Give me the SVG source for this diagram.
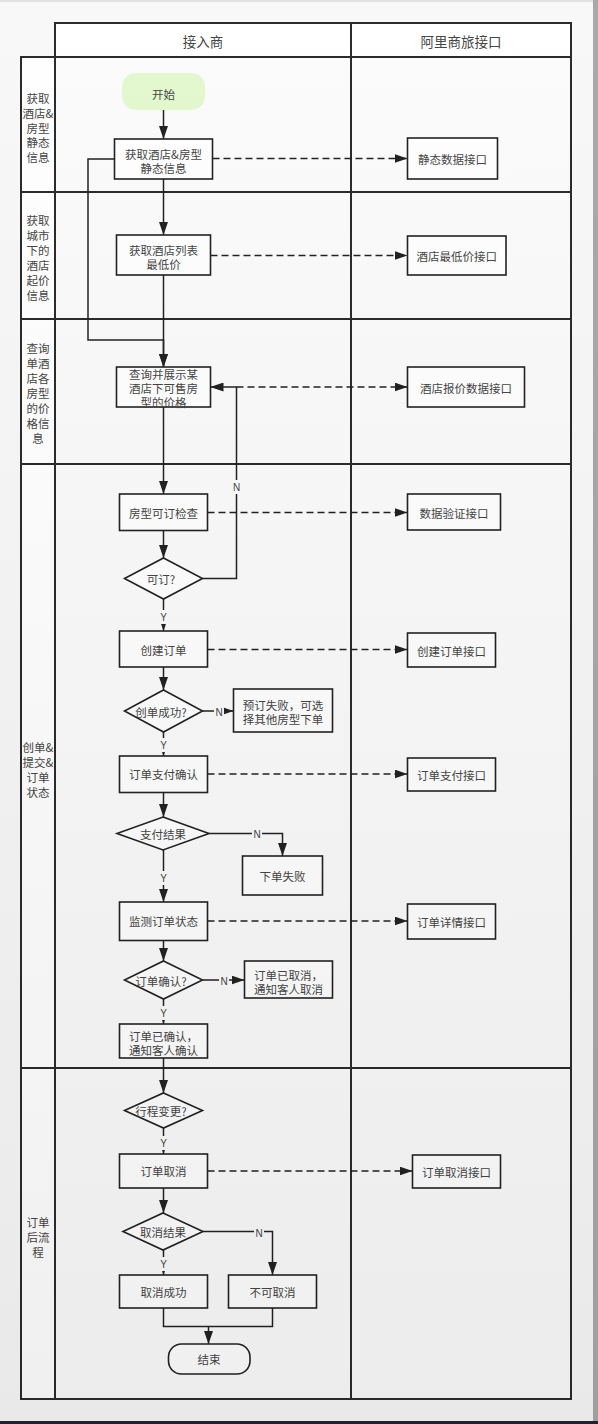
<svg xmlns="http://www.w3.org/2000/svg" width="598" height="1424" viewBox="0 0 598 1424">
<style>
.lane{fill:#fbfbfb;stroke:#2b2b2b;stroke-width:2}
.hdr{fill:#ffffff;stroke:#2b2b2b;stroke-width:2}
.lbl{fill:#ffffff;stroke:#2b2b2b;stroke-width:2}
.box{fill:#ffffff;stroke:#222;stroke-width:1.6}
.dia{fill:#ffffff;stroke:#222;stroke-width:1.6}
.t{font-family:"Noto Sans CJK SC","Liberation Sans",sans-serif;font-size:11.5px;fill:#454545;text-anchor:middle;dominant-baseline:central}
.h{font-family:"Noto Sans CJK SC","Liberation Sans",sans-serif;font-size:13.5px;fill:#454545;text-anchor:middle;dominant-baseline:central}
.e{font-family:"Liberation Sans","Noto Sans CJK SC",sans-serif;font-size:10px;fill:#454545;text-anchor:middle;dominant-baseline:central}
.c{fill:none;stroke:#222;stroke-width:1.5}
.d{fill:none;stroke:#222;stroke-width:1.5;stroke-dasharray:7 4}
.bg{fill:#fbfbfb}
</style>
<defs>
<marker id="ah" viewBox="0 0 13 9" refX="13" refY="4.5" markerWidth="13" markerHeight="9" markerUnits="userSpaceOnUse" orient="auto">
<path d="M0,0 L13,4.5 L0,9 z" fill="#222"/>
</marker>
<linearGradient id="shade" x1="0" y1="0" x2="0" y2="1">
<stop offset="0" stop-color="#000" stop-opacity="0"/>
<stop offset="1" stop-color="#000" stop-opacity="0.06"/>
</linearGradient>
</defs>
<rect x="0" y="0" width="598" height="1424" fill="#f8f8f8"/>
<rect x="0" y="0" width="598" height="2" fill="#e2e2e2"/>
<rect x="593" y="0" width="5" height="1424" fill="#a9a9a9"/>

<g id="swimlanes">
<rect class="hdr" x="55" y="23" width="296" height="34"/>
<rect class="hdr" x="351" y="23" width="220" height="34"/>
<text class="h" x="203" y="41">接入商</text>
<text class="h" x="461" y="41">阿里商旅接口</text>
<rect class="lane" x="55" y="57" width="516" height="1342"/>
<rect class="lbl" x="21" y="57" width="34" height="1342"/>
<line x1="351" y1="57" x2="351" y2="1399" stroke="#2b2b2b" stroke-width="2"/>
<line x1="21" y1="192" x2="571" y2="192" stroke="#2b2b2b" stroke-width="2"/>
<line x1="21" y1="319" x2="571" y2="319" stroke="#2b2b2b" stroke-width="2"/>
<line x1="21" y1="464" x2="571" y2="464" stroke="#2b2b2b" stroke-width="2"/>
<line x1="21" y1="1068" x2="571" y2="1068" stroke="#2b2b2b" stroke-width="2"/>
<text class="t">
<tspan x="38" y="98">获取</tspan><tspan x="38" y="113">酒店&amp;</tspan><tspan x="38" y="127.5">房型</tspan><tspan x="38" y="142">静态</tspan><tspan x="38" y="156.5">信息</tspan>
</text>
<text class="t">
<tspan x="38" y="220">获取</tspan><tspan x="38" y="235">城市</tspan><tspan x="38" y="250">下的</tspan><tspan x="38" y="265">酒店</tspan><tspan x="38" y="280">起价</tspan><tspan x="38" y="295">信息</tspan>
</text>
<text class="t">
<tspan x="38" y="348">查询</tspan><tspan x="38" y="363">单酒</tspan><tspan x="38" y="378">店各</tspan><tspan x="38" y="393">房型</tspan><tspan x="38" y="408">的价</tspan><tspan x="38" y="423">格信</tspan><tspan x="38" y="438">息</tspan>
</text>
<text class="t">
<tspan x="38" y="747">创单&amp;</tspan><tspan x="38" y="762">提交&amp;</tspan><tspan x="38" y="777">订单</tspan><tspan x="38" y="791.5">状态</tspan>
</text>
<text class="t">
<tspan x="38" y="1222">订单</tspan><tspan x="38" y="1237">后流</tspan><tspan x="38" y="1252">程</tspan>
</text>
</g>

<g id="connectors">
<path class="c" d="M163.5,110 V139" marker-end="url(#ah)"/>
<path class="d" d="M212.5,158.5 H407.5" marker-end="url(#ah)"/>
<path class="c" d="M163.5,179 V235" marker-end="url(#ah)"/>
<path class="d" d="M210.5,255.5 H407.5" marker-end="url(#ah)"/>
<path class="c" d="M114.5,159 H88 V340 H163.5 V367" marker-end="url(#ah)"/>
<path class="c" d="M163.5,275 V367" marker-end="url(#ah)"/>
<path class="d" d="M236.5,387 H407.5" marker-end="url(#ah)"/>
<path class="c" d="M202.5,578.5 H236.5 V387 H210.5" marker-end="url(#ah)"/>
<path class="c" d="M163.5,407 V494" marker-end="url(#ah)"/>
<path class="d" d="M207.5,512.5 H407.5" marker-end="url(#ah)"/>
<path class="c" d="M163.5,530.5 V558" marker-end="url(#ah)"/>
<path class="c" d="M163.5,599 V631" marker-end="url(#ah)"/>
<path class="d" d="M207.5,649.5 H407.5" marker-end="url(#ah)"/>
<path class="c" d="M163.5,667 V690" marker-end="url(#ah)"/>
<path class="c" d="M202.5,711 H233.5" marker-end="url(#ah)"/>
<path class="c" d="M163.5,732 V756" marker-end="url(#ah)"/>
<path class="d" d="M207.5,774 H407.5" marker-end="url(#ah)"/>
<path class="c" d="M163.5,792.5 V817" marker-end="url(#ah)"/>
<path class="c" d="M209,833.5 H282.5 V856" marker-end="url(#ah)"/>
<path class="c" d="M163.5,850 V902" marker-end="url(#ah)"/>
<path class="d" d="M207.5,921 H407.5" marker-end="url(#ah)"/>
<path class="c" d="M163.5,940.5 V961" marker-end="url(#ah)"/>
<path class="c" d="M202.5,980 H244.5" marker-end="url(#ah)"/>
<path class="c" d="M163.5,999 V1024" marker-end="url(#ah)"/>
<path class="c" d="M163.5,1058 V1093" marker-end="url(#ah)"/>
<path class="c" d="M163.5,1128 V1154" marker-end="url(#ah)"/>
<path class="d" d="M207.5,1171 H412.5" marker-end="url(#ah)"/>
<path class="c" d="M163.5,1188 V1213" marker-end="url(#ah)"/>
<path class="c" d="M203,1231.5 H272.5 V1275" marker-end="url(#ah)"/>
<path class="c" d="M163.5,1250 V1275" marker-end="url(#ah)"/>
<path class="c" d="M163.5,1308 V1326.5 H272.5 V1308"/>
<path class="c" d="M208.5,1326.5 V1344" marker-end="url(#ah)"/>
<rect class="bg" x="231" y="480" width="11" height="14"/><text class="e" x="236.5" y="487">N</text>
<rect class="bg" x="159" y="610" width="9" height="14"/><text class="e" x="163.5" y="617">Y</text>
<rect class="bg" x="214" y="705" width="10" height="14"/><text class="e" x="219" y="712">N</text>
<rect class="bg" x="159" y="738" width="9" height="14"/><text class="e" x="163.5" y="745">Y</text>
<rect class="bg" x="252" y="827" width="10" height="14"/><text class="e" x="257" y="834">N</text>
<rect class="bg" x="159" y="871" width="9" height="14"/><text class="e" x="163.5" y="878">Y</text>
<rect class="bg" x="219" y="974" width="10" height="14"/><text class="e" x="224" y="981">N</text>
<rect class="bg" x="159" y="1006" width="9" height="14"/><text class="e" x="163.5" y="1013">Y</text>
<rect class="bg" x="159" y="1136" width="9" height="14"/><text class="e" x="163.5" y="1143">Y</text>
<rect class="bg" x="254" y="1226" width="10" height="14"/><text class="e" x="259" y="1233">N</text>
<rect class="bg" x="159" y="1257" width="9" height="14"/><text class="e" x="163.5" y="1264">Y</text>
</g>

<g id="n-start"><rect x="122" y="73" width="83" height="37" rx="14" fill="#e4f8cf"/><text class="t" x="163.5" y="93.5">开始</text></g>
<g id="n-static"><rect class="box" x="114.5" y="139" width="98" height="40"/><text class="t"><tspan x="163.5" y="154">获取酒店&amp;房型</tspan><tspan x="163.5" y="168">静态信息</tspan></text></g>
<g id="n-static-api"><rect class="box" x="407.5" y="138" width="90" height="41"/><text class="t" x="452.5" y="159">静态数据接口</text></g>
<g id="n-list"><rect class="box" x="116.5" y="235" width="94" height="40"/><text class="t"><tspan x="163.5" y="250">获取酒店列表</tspan><tspan x="163.5" y="264">最低价</tspan></text></g>
<g id="n-list-api"><rect class="box" x="407.5" y="236" width="98.5" height="39"/><text class="t" x="456.75" y="256">酒店最低价接口</text></g>
<g id="n-query"><rect class="box" x="116.5" y="367" width="94" height="40"/><text class="t"><tspan x="163.5" y="374">查询并展示某</tspan><tspan x="163.5" y="388">酒店下可售房</tspan><tspan x="163.5" y="402">型的价格</tspan></text></g>
<g id="n-query-api"><rect class="box" x="407.5" y="367" width="117" height="40"/><text class="t" x="466" y="387.5">酒店报价数据接口</text></g>
<g id="n-check"><rect class="box" x="119.5" y="494" width="88" height="36.5"/><text class="t" x="163.5" y="512.5">房型可订检查</text></g>
<g id="n-check-api"><rect class="box" x="407.5" y="494" width="93" height="36"/><text class="t" x="454" y="512.5">数据验证接口</text></g>
<g id="n-bookable"><polygon class="dia" points="163.5,558 202.5,578.5 163.5,599 124.5,578.5"/><text class="t" x="161" y="579">可订?</text></g>
<g id="n-create"><rect class="box" x="119.5" y="631" width="88" height="36"/><text class="t" x="163.5" y="649.5">创建订单</text></g>
<g id="n-create-api"><rect class="box" x="407.5" y="633" width="88" height="34"/><text class="t" x="451.5" y="650.5">创建订单接口</text></g>
<g id="n-create-ok"><polygon class="dia" points="163.5,690 202.5,711 163.5,732 124.5,711"/><text class="t" x="161" y="711.5">创单成功?</text></g>
<g id="n-book-fail"><rect class="box" x="233.5" y="689" width="99" height="43"/><text class="t"><tspan x="283" y="705">预订失败，可选</tspan><tspan x="283" y="719">择其他房型下单</tspan></text></g>
<g id="n-pay"><rect class="box" x="119.5" y="756" width="88" height="36.5"/><text class="t" x="163.5" y="774">订单支付确认</text></g>
<g id="n-pay-api"><rect class="box" x="407.5" y="758" width="88" height="33"/><text class="t" x="451.5" y="775">订单支付接口</text></g>
<g id="n-pay-result"><polygon class="dia" points="163,817 209,833.5 163,850 117,833.5"/><text class="t" x="163" y="834">支付结果</text></g>
<g id="n-order-fail"><rect class="box" x="242.5" y="856" width="80" height="39"/><text class="t" x="282.5" y="876">下单失败</text></g>
<g id="n-monitor"><rect class="box" x="119.5" y="902" width="88" height="38.5"/><text class="t" x="163.5" y="921">监测订单状态</text></g>
<g id="n-detail-api"><rect class="box" x="407.5" y="904" width="88" height="35"/><text class="t" x="451.5" y="921.5">订单详情接口</text></g>
<g id="n-confirmed-q"><polygon class="dia" points="163.5,961 202.5,980 163.5,999 124.5,980"/><text class="t" x="161" y="980.5">订单确认?</text></g>
<g id="n-cancelled"><rect class="box" x="244.5" y="961" width="88" height="37"/><text class="t"><tspan x="288.5" y="975">订单已取消，</tspan><tspan x="288.5" y="989">通知客人取消</tspan></text></g>
<g id="n-confirmed"><rect class="box" x="119.5" y="1024" width="88" height="34"/><text class="t"><tspan x="163.5" y="1036">订单已确认，</tspan><tspan x="163.5" y="1050">通知客人确认</tspan></text></g>
<g id="n-change"><polygon class="dia" points="163.5,1093 202.5,1110.5 163.5,1128 124.5,1110.5"/><text class="t" x="161" y="1111">行程变更?</text></g>
<g id="n-cancel"><rect class="box" x="119.5" y="1154" width="88" height="34"/><text class="t" x="163.5" y="1171">订单取消</text></g>
<g id="n-cancel-api"><rect class="box" x="412.5" y="1155" width="88" height="33"/><text class="t" x="456.5" y="1171.5">订单取消接口</text></g>
<g id="n-cancel-result"><polygon class="dia" points="163,1213 203,1231.5 163,1250 123,1231.5"/><text class="t" x="163" y="1232">取消结果</text></g>
<g id="n-cancel-ok"><rect class="box" x="119.5" y="1275" width="88" height="33"/><text class="t" x="163.5" y="1292">取消成功</text></g>
<g id="n-cancel-no"><rect class="box" x="228.5" y="1275" width="88" height="33"/><text class="t" x="272.5" y="1292">不可取消</text></g>
<g id="n-end"><rect class="box" x="168.5" y="1344" width="81.5" height="30" rx="13"/><text class="t" x="209" y="1359">结束</text></g>

<rect x="0" y="0" width="598" height="1424" fill="url(#shade)" pointer-events="none"/>
<rect x="0" y="1421" width="598" height="3" fill="#1f2131"/>
</svg>
